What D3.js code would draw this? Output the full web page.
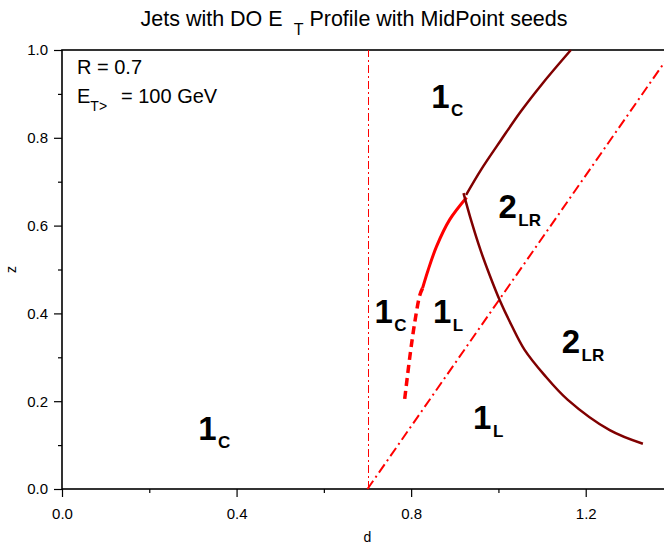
<!DOCTYPE html>
<html>
<head>
<meta charset="utf-8">
<script src="https://cdn.jsdelivr.net/npm/d3@7"></script>
<style>
  html, body { margin: 0; padding: 0; background: #fff; }
  svg { display: block; font-family: "Liberation Sans", Arial, sans-serif; }
</style>
</head>
<body>
<svg id="chart" width="664" height="548"></svg>
<script>
// Jet region boundaries in the (d, z) plane
const xMajorTicks = [0.0, 0.4, 0.8, 1.2];
const xMinorTicks = [0.2, 0.6, 1.0];
const yMajorTicks = [0.0, 0.2, 0.4, 0.6, 0.8, 1.0];
const yMinorTicks = [0.1, 0.3, 0.5, 0.7, 0.9];

// upper dark boundary (1C / 2LR)
const upperD = [0.926, 0.960, 1.006, 1.052, 1.102, 1.166];
const upperZ = [0.670, 0.727, 0.795, 0.861, 0.925, 1.000];

// solid red boundary (1C / 1L)
const solidD = [0.927, 0.888, 0.858, 0.839, 0.826];
const solidZ = [0.664, 0.613, 0.552, 0.499, 0.457];

// dashed red continuation
const dashD = [0.826, 0.820, 0.808, 0.797, 0.785];
const dashZ = [0.457, 0.442, 0.378, 0.301, 0.203];

// descending dark boundary (1L / 2LR)
const downD = [0.920, 0.938, 0.959, 0.980, 1.003, 1.030, 1.060, 1.105, 1.159, 1.255, 1.331];
const downZ = [0.674, 0.610, 0.544, 0.487, 0.430, 0.373, 0.317, 0.260, 0.203, 0.134, 0.103];

// straight dash-dot guides
const vertD = [0.7, 0.7];
const vertZ = [0.0, 1.0];
const diagD = [0.7, 1.4];
const diagZ = [0.0, 1.0];

// region labels: main digit, subscript, anchor
const labelMain = ["1", "1", "1", "1", "2", "2", "1"];
const labelSub  = ["C", "C", "C", "L", "LR", "LR", "L"];
const labelD    = [0.846, 0.312, 0.716, 0.850, 1.000, 1.145, 0.942];
const labelZ    = [0.869, 0.112, 0.377, 0.377, 0.617, 0.309, 0.137];

const svg = d3.select("#chart");
const x = d3.scaleLinear().domain([0, 1.4]).range([62, 673]);
const y = d3.scaleLinear().domain([0, 1]).range([489, 50]);

const zip = (a, b) => a.map((v, i) => [v, b[i]]);
const line = d3.line().x(d => x(d[0])).y(d => y(d[1]));
const crispLine = d3.line().x(d => Math.round(x(d[0])) + 0.5).y(d => y(d[1]));
const smooth = d3.line().x(d => x(d[0])).y(d => y(d[1])).curve(d3.curveCatmullRom.alpha(0.5));

// title
const title = svg.append("text")
  .attr("x", 354).attr("y", 26)
  .attr("text-anchor", "middle")
  .attr("font-size", 21.5)
  .attr("fill", "#000");
title.append("tspan").text("Jets with DO E ");
title.append("tspan").attr("dy", 9).attr("font-size", 16).attr("dx", 5).text("T");
title.append("tspan").attr("dy", -9).text(" Profile with MidPoint seeds");

// frame
svg.append("rect")
  .attr("x", x(0)).attr("y", y(1))
  .attr("width", x(1.4) - x(0)).attr("height", y(0) - y(1))
  .attr("fill", "none").attr("stroke", "#000").attr("stroke-width", 1.6);

// x axis
const xAxis = d3.axisBottom(x).tickValues(xMajorTicks).tickSize(8).tickFormat(d3.format(".1f"));
const gx = svg.append("g").attr("transform", `translate(0,${y(0)})`).call(xAxis);
gx.select(".domain").remove();
gx.selectAll(".tick line").attr("stroke", "#000").attr("stroke-width", 1.2);
gx.selectAll(".tick text").attr("font-size", 15).attr("font-family", "Liberation Sans, Arial, sans-serif").attr("dy", 19);
const gxm = svg.append("g").attr("transform", `translate(0,${y(0)})`)
  .call(d3.axisBottom(x).tickValues(xMinorTicks).tickSize(4).tickFormat(""));
gxm.select(".domain").remove();
gxm.selectAll(".tick line").attr("stroke", "#000").attr("stroke-width", 1.2);

// y axis
const yAxis = d3.axisLeft(y).tickValues(yMajorTicks).tickSize(8).tickFormat(d3.format(".1f"));
const gy = svg.append("g").attr("transform", `translate(${x(0)},0)`).call(yAxis);
gy.select(".domain").remove();
gy.selectAll(".tick line").attr("stroke", "#000").attr("stroke-width", 1.2);
gy.selectAll(".tick text").attr("font-size", 15).attr("font-family", "Liberation Sans, Arial, sans-serif").attr("x", -14);
const gym = svg.append("g").attr("transform", `translate(${x(0)},0)`)
  .call(d3.axisLeft(y).tickValues(yMinorTicks).tickSize(4).tickFormat(""));
gym.select(".domain").remove();
gym.selectAll(".tick line").attr("stroke", "#000").attr("stroke-width", 1.2);

// axis titles
svg.append("text").attr("x", x(0.7)).attr("y", 542).attr("text-anchor", "middle")
  .attr("font-size", 14).text("d");
svg.append("text").attr("transform", `translate(16,${y(0.5)}) rotate(-90)`)
  .attr("text-anchor", "middle").attr("font-size", 14).text("z");

// plotted boundaries
const plot = svg.append("g");
plot.append("path").datum(zip(vertD, vertZ)).attr("d", crispLine)
  .attr("fill", "none").attr("stroke", "#ff0000").attr("stroke-width", 1)
  .attr("stroke-dasharray", "8,3,2,3");
plot.append("path").datum(zip(diagD, diagZ)).attr("d", line)
  .attr("fill", "none").attr("stroke", "#ff0000").attr("stroke-width", 2)
  .attr("stroke-dasharray", "10,4,2,4");
plot.append("path").datum(zip(solidD, solidZ)).attr("d", smooth)
  .attr("fill", "none").attr("stroke", "#ff0000").attr("stroke-width", 3);
plot.append("path").datum(zip(dashD, dashZ)).attr("d", smooth)
  .attr("fill", "none").attr("stroke", "#ff0000").attr("stroke-width", 3.5)
  .attr("stroke-dasharray", "8,5");
plot.append("path").datum(zip(upperD, upperZ)).attr("d", smooth)
  .attr("fill", "none").attr("stroke", "#800000").attr("stroke-width", 2.5);
plot.append("path").datum(zip(downD, downZ)).attr("d", smooth)
  .attr("fill", "none").attr("stroke", "#800000").attr("stroke-width", 2.5);

// region labels
labelMain.forEach((m, i) => {
  const t = plot.append("text")
    .attr("x", x(labelD[i])).attr("y", y(labelZ[i]))
    .attr("font-weight", "bold").attr("font-size", 33).attr("fill", "#000");
  t.append("tspan").text(m);
  t.append("tspan").attr("dy", 8).attr("dx", 1.5).attr("font-size", 17).text(labelSub[i]);
});

// parameter box text
svg.append("text").attr("x", 77).attr("y", 74).attr("font-size", 20).text("R = 0.7");
const et = svg.append("text").attr("x", 77).attr("y", 103).attr("font-size", 20);
et.append("tspan").text("E");
et.append("tspan").attr("dy", 8).attr("font-size", 14).text("T>");
et.append("tspan").attr("dy", -8).attr("x", 121).text("= 100 GeV");
</script>
</body>
</html>
